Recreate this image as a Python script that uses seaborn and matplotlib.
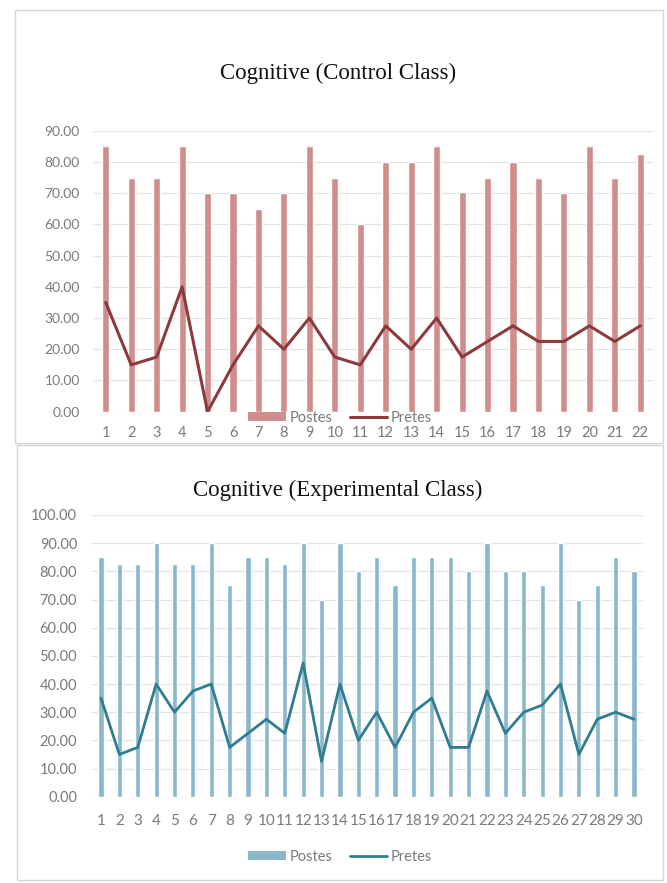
import numpy as np
import pandas as pd
import matplotlib
matplotlib.use("Agg")
import matplotlib.pyplot as plt
import seaborn as sns
from matplotlib.patches import Patch, Rectangle
from matplotlib.lines import Line2D
from matplotlib.ticker import FormatStrFormatter

# ---------------- data ----------------
control_students = list(range(1, 23))
control_postes = [85, 75, 75, 85, 70, 70, 65, 70, 85, 75, 60, 80, 80, 85, 70.5, 75, 80, 75, 70, 85, 75, 82.5]
control_pretes = [35, 15, 17.5, 40, 0, 15, 27.5, 20, 30, 17.5, 15, 27.5, 20, 30, 17.5, 22.5, 27.5, 22.5, 22.5, 27.5, 22.5, 27.5]

exp_students = list(range(1, 31))
exp_postes = [85, 82.5, 82.5, 90, 82.5, 82.5, 90, 75, 85, 85, 82.5, 90, 70, 90, 80,
              85, 75, 85, 85, 85, 80, 90, 80, 80, 75, 90, 70, 75, 85, 80]
exp_pretes = [35, 15, 17.5, 40, 30, 37.5, 40, 17.5, 22.5, 27.5, 22.5, 47.5, 12.5, 40, 20,
              30, 17.5, 30, 35, 17.5, 17.5, 37.5, 22.5, 30, 32.5, 40, 15, 27.5, 30, 27.5]

titles = ["Cognitive (Control Class)", "Cognitive (Experimental Class)"]
series_labels = ["Postes", "Pretes"]

# ---------------- style ----------------
sns.set_theme(style="white")
plt.rcParams["font.family"] = ["Lato", "DejaVu Sans"]

W, H = 667, 883
fig = plt.figure(figsize=(W / 100, H / 100), dpi=100)
fig.patch.set_facecolor("white")

def fx(px):
    return px / W

def fy(py):
    return 1 - py / H

tick_color = "#7a7a7a"
grid_color = "#e3e3e3"

def draw_panel(ax, students, postes, pretes, bar_color, line_color, ymax, lw,
               xpad, ypad, xfs, yfs):
    df = pd.DataFrame({"Student": students, "Postes": postes, "Pretes": pretes})
    n = len(df)
    sns.barplot(data=df, x="Student", y="Postes", color=bar_color, saturation=1,
                width=0.28, ax=ax, zorder=2)
    sns.lineplot(x=np.arange(n), y=df["Pretes"].values, color=line_color, lw=lw,
                 ax=ax, zorder=3, legend=False)
    ax.set_xlim(-0.5, n - 0.5)
    ax.set_ylim(0, ymax)
    ax.set_yticks(np.arange(0, ymax + 1, 10))
    ax.yaxis.set_major_formatter(FormatStrFormatter("%.2f"))
    ax.set_xlabel("")
    ax.set_ylabel("")
    for s in ax.spines.values():
        s.set_visible(False)
    ax.grid(axis="y", color=grid_color, lw=0.9, zorder=0)
    ax.set_axisbelow(True)
    ax.tick_params(axis="x", length=0, pad=xpad, labelsize=xfs, labelcolor=tick_color)
    ax.tick_params(axis="y", length=0, pad=ypad, labelsize=yfs, labelcolor=tick_color)
    ax.patch.set_alpha(0)

# panel frames
fig.add_artist(Rectangle((fx(15), fy(443)), fx(663 - 15), (443 - 10) / H,
                         transform=fig.transFigure, fill=False, ec="#d6d6d6", lw=1.0))
fig.add_artist(Rectangle((fx(16.7), fy(880)), fx(663 - 16.7), (880 - 445) / H,
                         transform=fig.transFigure, fill=False, ec="#d6d6d6", lw=1.0))

# top panel
ax1 = fig.add_axes([fx(93), fy(411.7), fx(653 - 93), (411.7 - 130.7) / H])
c_bar1, c_line1 = "#cf8e8e", "#8c3a3e"
draw_panel(ax1, control_students, control_postes, control_pretes, c_bar1, c_line1,
           90, 2.2, 10, 9.5, 10.5, 10)

# bottom panel
ax2 = fig.add_axes([fx(91.8), fy(796.7), fx(643.2 - 91.8), (796.7 - 515) / H])
c_bar2, c_line2 = "#88b8ca", "#2f7d91"
draw_panel(ax2, exp_students, exp_postes, exp_pretes, c_bar2, c_line2,
           100, 2.0, 12.5, 10.5, 11, 10.5)

# titles
fig.text(fx(338), fy(73), titles[0], ha="center", va="center",
         family=["Liberation Serif", "DejaVu Serif"], fontsize=16.5, color="#111111")
fig.text(fx(338), fy(490), titles[1], ha="center", va="center",
         family=["Liberation Serif", "DejaVu Serif"], fontsize=16.5, color="#111111")

# legends
def add_legend(bar_color, line_color, y, lw):
    handles = [Patch(facecolor=bar_color, edgecolor="none"),
               Line2D([0], [0], color=line_color, lw=lw)]
    fig.legend(handles, series_labels, loc="center", bbox_to_anchor=(fx(340), fy(y)),
               ncol=2, frameon=False, handlelength=2.6, handleheight=0.55,
               columnspacing=1.2, handletextpad=0.25, fontsize=10.5,
               labelcolor=tick_color)

add_legend(c_bar1, c_line1, 418, 2.2)
add_legend(c_bar2, c_line2, 857, 2.0)

fig.savefig("out.png", dpi=100, facecolor="white")
